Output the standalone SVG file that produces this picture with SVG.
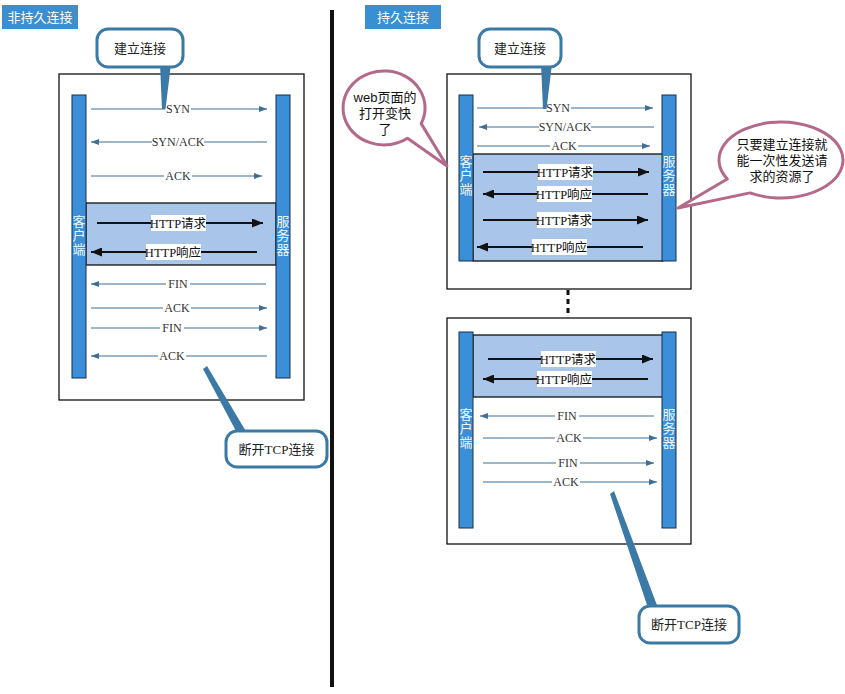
<svg xmlns="http://www.w3.org/2000/svg" width="845" height="694" viewBox="0 0 845 694">
<defs>
<style>
.bg{fill:#fff}
.frame{fill:#fff;stroke:#111;stroke-width:1.3}
.bar{fill:#3a8fd8;stroke:#1b2f45;stroke-width:1}
.band{fill:#a9c5ea;stroke:#111;stroke-width:1.3}
.thin{stroke:#3f6f94;stroke-width:1.1;fill:none}
.thick{stroke:#111;stroke-width:2.2;fill:none}
.lbl{font-family:"Liberation Serif","Noto Sans CJK SC",serif;font-size:12px;fill:#333;text-anchor:middle}
.hlbl{font-family:"Liberation Serif","Noto Sans CJK SC",serif;font-size:12.5px;fill:#111;text-anchor:middle}
.lbg{fill:#fff}
.vt{font-family:"Noto Sans CJK SC",sans-serif;font-size:13px;fill:#eef6ff;writing-mode:vertical-rl;text-orientation:upright;letter-spacing:1px}
.tag{fill:#3a8fd2}
.tagt{font-family:"Noto Sans CJK SC",sans-serif;font-size:13px;fill:#fff;text-anchor:middle}
.call{fill:#fff;stroke:#3b7aa6;stroke-width:3}
.tail{fill:#3b7aa6}
.callt{font-family:"Liberation Serif","Noto Sans CJK SC",serif;font-size:13px;fill:#222;text-anchor:middle}
.pink{fill:#fff;stroke:#b4698b;stroke-width:3;stroke-linejoin:round}
.pinkt{font-family:"Liberation Sans","Noto Sans CJK SC",sans-serif;font-size:13px;fill:#111;text-anchor:middle}
</style>
<marker id="ah" markerUnits="userSpaceOnUse" markerWidth="8" markerHeight="6" refX="8" refY="3" orient="auto"><path d="M0,0 L8,3 L0,6 z" fill="#3f6f94"/></marker>
<marker id="ahb" markerUnits="userSpaceOnUse" markerWidth="11" markerHeight="9" refX="11" refY="4.5" orient="auto"><path d="M0,0 L11,4.5 L0,9 z" fill="#111"/></marker>
</defs>
<rect class="bg" x="0" y="0" width="845" height="694"/>

<!-- divider -->
<rect x="330" y="10" width="4" height="677" fill="#111"/>

<!-- left panel -->
<g id="tag-left"><rect class="tag" x="2" y="5" width="76" height="24"/><text class="tagt" x="40" y="22">非持久连接</text></g>
<g id="frame-left"><rect class="frame" x="59" y="74" width="245" height="326"/></g>
<g id="band-left"><rect class="band" x="86" y="203" width="190" height="62"/></g>
<g id="client-left"><rect class="bar" x="72" y="95" width="14" height="283"/>
<text class="vt" x="79" y="215">客户端</text></g>
<g id="server-left"><rect class="bar" x="276" y="95" width="14" height="283"/>
<text class="vt" x="283" y="215">服务器</text></g>

<!-- right panel -->
<g id="tag-right"><rect class="tag" x="365" y="5" width="76" height="24"/><text class="tagt" x="403" y="22">持久连接</text></g>
<g id="frame-right-1"><rect class="frame" x="447" y="74" width="244" height="215"/></g>
<g id="band-right-1"><rect class="band" x="473" y="154" width="190" height="107"/></g>
<g id="client-right-1"><rect class="bar" x="459" y="95" width="14" height="166"/>
<text class="vt" x="466" y="155">客户端</text></g>
<g id="server-right-1"><rect class="bar" x="662" y="95" width="14" height="166"/>
<text class="vt" x="669" y="155">服务器</text></g>

<g id="frame-right-2"><rect class="frame" x="447" y="318" width="244" height="226"/></g>
<g id="band-right-2"><rect class="band" x="473" y="335" width="190" height="62"/></g>
<g id="client-right-2"><rect class="bar" x="459" y="332" width="14" height="196"/>
<text class="vt" x="466" y="408">客户端</text></g>
<g id="server-right-2"><rect class="bar" x="662" y="332" width="14" height="196"/>
<text class="vt" x="669" y="408">服务器</text></g>

<!-- connectors -->
<g id="connectors">
<line x1="568" y1="290" x2="568" y2="317" stroke="#111" stroke-width="3" stroke-dasharray="5,4"/>
<!-- left -->
<line class="thin" x1="91" y1="109" x2="267" y2="109" marker-end="url(#ah)"/>
<line class="thin" x1="267" y1="142" x2="91" y2="142" marker-end="url(#ah)"/>
<line class="thin" x1="91" y1="176" x2="262" y2="176" marker-end="url(#ah)"/>
<line class="thick" x1="97" y1="223" x2="263" y2="223" marker-end="url(#ahb)"/>
<line class="thick" x1="257" y1="252" x2="91" y2="252" marker-end="url(#ahb)"/>
<line class="thin" x1="266" y1="284" x2="91" y2="284" marker-end="url(#ah)"/>
<line class="thin" x1="91" y1="308" x2="267" y2="308" marker-end="url(#ah)"/>
<line class="thin" x1="91" y1="328" x2="267" y2="328" marker-end="url(#ah)"/>
<line class="thin" x1="267" y1="356" x2="91" y2="356" marker-end="url(#ah)"/>
<!-- right top -->
<line class="thin" x1="477" y1="108" x2="653" y2="108" marker-end="url(#ah)"/>
<line class="thin" x1="654" y1="127" x2="479" y2="127" marker-end="url(#ah)"/>
<line class="thin" x1="477" y1="146" x2="650" y2="146" marker-end="url(#ah)"/>
<line class="thick" x1="483" y1="172" x2="649" y2="172" marker-end="url(#ahb)"/>
<line class="thick" x1="648" y1="194" x2="483" y2="194" marker-end="url(#ahb)"/>
<line class="thick" x1="483" y1="220" x2="648" y2="220" marker-end="url(#ahb)"/>
<line class="thick" x1="643" y1="247" x2="477" y2="247" marker-end="url(#ahb)"/>
<!-- right bottom -->
<line class="thick" x1="488" y1="359" x2="653" y2="359" marker-end="url(#ahb)"/>
<line class="thick" x1="648" y1="379" x2="483" y2="379" marker-end="url(#ahb)"/>
<line class="thin" x1="654" y1="416" x2="480" y2="416" marker-end="url(#ah)"/>
<line class="thin" x1="483" y1="438" x2="657" y2="438" marker-end="url(#ah)"/>
<line class="thin" x1="483" y1="463" x2="654" y2="463" marker-end="url(#ah)"/>
<line class="thin" x1="483" y1="482" x2="657" y2="482" marker-end="url(#ah)"/>

<!-- labels -->
<rect class="lbg" x="165" y="102" width="26" height="14"/><text class="lbl" x="178" y="113">SYN</text>
<rect class="lbg" x="152" y="135" width="52" height="14"/><text class="lbl" x="178" y="146">SYN/ACK</text>
<rect class="lbg" x="164" y="169" width="28" height="14"/><text class="lbl" x="178" y="180">ACK</text>
<rect class="lbg" x="151" y="215" width="55" height="16"/><text class="hlbl" x="178" y="227.5">HTTP请求</text>
<rect class="lbg" x="146" y="244" width="55" height="16"/><text class="hlbl" x="173" y="256.5">HTTP响应</text>
<rect class="lbg" x="166" y="277" width="24" height="14"/><text class="lbl" x="178" y="288">FIN</text>
<rect class="lbg" x="163" y="301" width="28" height="14"/><text class="lbl" x="177" y="312">ACK</text>
<rect class="lbg" x="160" y="321" width="24" height="14"/><text class="lbl" x="172" y="332">FIN</text>
<rect class="lbg" x="158" y="349" width="28" height="14"/><text class="lbl" x="172" y="360">ACK</text>

<rect class="lbg" x="545" y="101" width="26" height="14"/><text class="lbl" x="558" y="112">SYN</text>
<rect class="lbg" x="539" y="120" width="52" height="14"/><text class="lbl" x="565" y="131">SYN/ACK</text>
<rect class="lbg" x="550" y="139" width="28" height="14"/><text class="lbl" x="564" y="150">ACK</text>
<rect class="lbg" x="538" y="164" width="55" height="16"/><text class="hlbl" x="565" y="176.5">HTTP请求</text>
<rect class="lbg" x="537" y="186" width="55" height="16"/><text class="hlbl" x="564" y="198.5">HTTP响应</text>
<rect class="lbg" x="537" y="212" width="55" height="16"/><text class="hlbl" x="564" y="224.5">HTTP请求</text>
<rect class="lbg" x="532" y="239" width="55" height="16"/><text class="hlbl" x="559" y="251.5">HTTP响应</text>

<rect class="lbg" x="541" y="351" width="55" height="16"/><text class="hlbl" x="568" y="363.5">HTTP请求</text>
<rect class="lbg" x="537" y="371" width="55" height="16"/><text class="hlbl" x="564" y="383.5">HTTP响应</text>
<rect class="lbg" x="555" y="409" width="24" height="14"/><text class="lbl" x="567" y="420">FIN</text>
<rect class="lbg" x="555" y="431" width="28" height="14"/><text class="lbl" x="569" y="442">ACK</text>
<rect class="lbg" x="556" y="456" width="24" height="14"/><text class="lbl" x="568" y="467">FIN</text>
<rect class="lbg" x="552" y="475" width="28" height="14"/><text class="lbl" x="566" y="486">ACK</text>
</g>

<!-- callouts -->
<g id="callout-connect-left">
<polygon class="tail" points="160,64 171,64 165.5,109 162,109"/>
<rect class="call" x="97" y="29" width="86" height="38" rx="11"/>
<text class="callt" x="140" y="53">建立连接</text>
</g>
<g id="callout-close-left">
<polygon class="tail" points="203,369 207,366 247,433 237,433"/>
<rect class="call" x="226" y="431" width="101" height="36" rx="11"/>
<text class="callt" x="276.5" y="454">断开TCP连接</text>
</g>
<g id="callout-connect-right">
<polygon class="tail" points="541,64 552,64 546.5,109 543,109"/>
<rect class="call" x="479" y="29" width="82" height="38" rx="11"/>
<text class="callt" x="520" y="53">建立连接</text>
</g>
<g id="callout-close-right">
<polygon class="tail" points="610,494 614,491 658,608 648,608"/>
<rect class="call" x="639" y="606" width="100" height="37" rx="11"/>
<text class="callt" x="689" y="629">断开TCP连接</text>
</g>
<g id="bubble-fast">
<path class="pink" d="M421.2,123.6 A41 37 0 1 0 407.5,138.3 L447,166 Z"/>
<text class="pinkt"><tspan x="385" y="102">web页面的</tspan><tspan x="385" y="118">打开变快</tspan><tspan x="385" y="134">了</tspan></text>
</g>
<g id="bubble-once">
<path class="pink" d="M750,192.9 L678,208 L727.3,179 A62 38 0 1 1 750,192.9 Z"/>
<text class="pinkt"><tspan x="782" y="149">只要建立连接就</tspan><tspan x="782" y="165">能一次性发送请</tspan><tspan x="782" y="181">求的资源了</tspan></text>
</g>
</svg>
